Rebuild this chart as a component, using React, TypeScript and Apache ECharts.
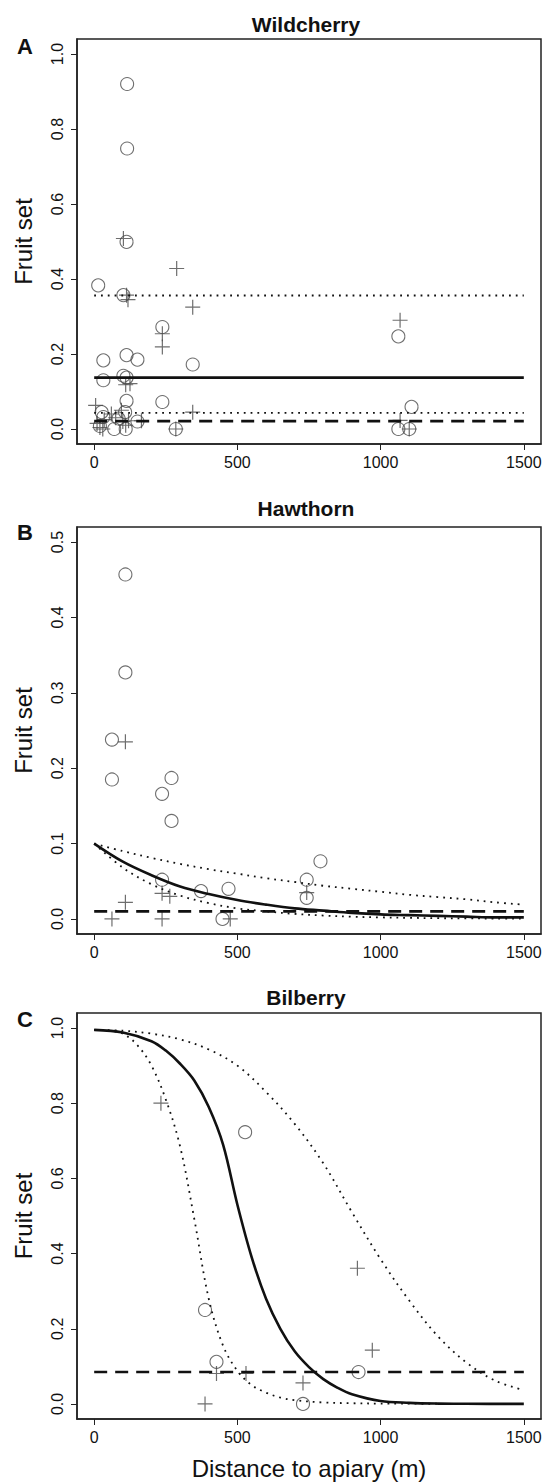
import React, { useEffect, useRef } from "react";
import * as echarts from "echarts";

// ---------- tick values ----------
const xTicks = [0, 500, 1000, 1500];
const yTicksA = [0, 0.2, 0.4, 0.6, 0.8, 1.0];
const yTicksB = [0, 0.1, 0.2, 0.3, 0.4, 0.5];
const yTicksC = [0, 0.2, 0.4, 0.6, 0.8, 1.0];

const titles = ["Wildcherry", "Hawthorn", "Bilberry"];
const letters = ["A", "B", "C"];
const xAxisTitle = "Distance to apiary (m)";
const yAxisTitle = "Fruit set";

// ---------- Panel A: Wildcherry ----------
const wildCircles: number[][] = [
  [115, 0.92], [115, 0.748], [113, 0.499], [14, 0.383], [102, 0.357],
  [238, 0.272], [344, 0.172], [32, 0.183], [113, 0.197], [151, 0.185],
  [32, 0.13], [102, 0.142], [113, 0.137], [113, 0.075], [238, 0.072],
  [26, 0.045], [32, 0.032], [108, 0.045], [70, 0.0], [110, 0.0],
  [151, 0.02], [285, 0.0], [1062, 0.247], [1108, 0.059], [1062, 0.0],
  [1100, 0.0], [85, 0.028], [20, 0.008],
];
const wildCrosses: number[][] = [
  [102, 0.508], [113, 0.357], [118, 0.345], [288, 0.428], [344, 0.325],
  [238, 0.254], [238, 0.219], [125, 0.121], [110, 0.118], [344, 0.045],
  [1068, 0.29], [1068, 0.023], [1100, 0.0], [285, 0.0],
  [5, 0.063], [10, 0.015], [20, 0.004], [30, 0.0], [35, 0.025],
  [60, 0.04], [75, 0.03], [95, 0.05], [100, 0.02], [110, 0.01],
  [120, 0.022], [165, 0.022],
];
const wildFit = 0.137;
const wildUpper = 0.356;
const wildLower = 0.043;
const wildNull = 0.021;

// ---------- Panel B: Hawthorn ----------
const hawCircles: number[][] = [
  [109, 0.457], [109, 0.327], [62, 0.238], [62, 0.185], [237, 0.166],
  [270, 0.187], [270, 0.13], [790, 0.0765], [742, 0.052], [742, 0.028],
  [237, 0.052], [373, 0.037], [469, 0.04], [448, 0.0],
];
const hawCrosses: number[][] = [
  [109, 0.235], [109, 0.022], [62, 0.0], [237, 0.0], [237, 0.034],
  [264, 0.03], [742, 0.035], [475, 0.0],
];
const hawDist = [0, 100, 200, 300, 400, 500, 600, 700, 800, 900, 1000, 1100, 1200, 1300, 1400, 1500];
const hawFit = [0.1, 0.076, 0.058, 0.043, 0.033, 0.025, 0.019, 0.014, 0.011, 0.008, 0.006, 0.005, 0.004, 0.003, 0.002, 0.002];
const hawUpper = [0.1, 0.09, 0.081, 0.073, 0.066, 0.06, 0.054, 0.049, 0.044, 0.04, 0.036, 0.032, 0.029, 0.026, 0.022, 0.019];
const hawLower = [0.1, 0.068, 0.046, 0.031, 0.021, 0.014, 0.01, 0.0067, 0.0045, 0.003, 0.002, 0.0014, 0.001, 0.0007, 0.0005, 0.0003];
const hawNull = 0.01;

// ---------- Panel C: Bilberry ----------
const bilCircles: number[][] = [
  [527, 0.723], [387, 0.25], [427, 0.112], [923, 0.085], [729, 0.0],
];
const bilCrosses: number[][] = [
  [233, 0.8], [919, 0.361], [971, 0.143], [427, 0.081], [530, 0.081],
  [729, 0.056], [387, 0.0],
];
const bilFitX = [0, 100, 200, 250, 300, 350, 400, 450, 500, 550, 600, 650, 700, 750, 800, 850, 900, 1000, 1100, 1200, 1300, 1500];
const bilFitY = [0.995, 0.988, 0.965, 0.94, 0.905, 0.86, 0.79, 0.69, 0.53, 0.39, 0.28, 0.2, 0.14, 0.098, 0.066, 0.043, 0.026, 0.008, 0.003, 0.001, 0.0005, 0.0002];
const bilLowX = [0, 50, 100, 150, 200, 250, 300, 350, 400, 450, 500, 550, 600, 650, 700, 800, 900, 1000, 1500];
const bilLowY = [0.995, 0.993, 0.985, 0.955, 0.9, 0.81, 0.685, 0.49, 0.28, 0.155, 0.088, 0.05, 0.03, 0.017, 0.01, 0.004, 0.002, 0.001, 0.0];
const bilUpX = [0, 100, 200, 300, 400, 500, 600, 700, 800, 900, 1000, 1100, 1200, 1300, 1400, 1500];
const bilUpY = [0.995, 0.993, 0.985, 0.97, 0.943, 0.9, 0.83, 0.745, 0.64, 0.51, 0.385, 0.275, 0.18, 0.11, 0.062, 0.037];
const bilNull = 0.085;

// ---------- helpers ----------
const FONT = "'Liberation Sans', Arial, Helvetica, sans-serif";
const zip = (xs: number[], ys: number[]) => xs.map((x, i) => [x, ys[i]]);
const flat = (v: number) => [[0, v], [1500, v]];

const GRID_LEFT = 77;
const GRID_WIDTH = 464;
const panelTops = [39, 527, 1013];
const panelHeights = [405, 407, 406];
const yMins = [-0.04, -0.02, -0.04];
const yMaxs = [1.04, 0.52, 1.04];
const yTickSets = [yTicksA, yTicksB, yTicksC];

const CROSS = "path://M7,0L7,14M0,7L14,7";

function scatter(idx: number, data: number[][], cross: boolean) {
  return {
    type: "scatter",
    xAxisIndex: idx,
    yAxisIndex: idx,
    data,
    symbol: cross ? CROSS : "circle",
    symbolSize: cross ? 15 : 13,
    itemStyle: {
      color: "rgba(0,0,0,0)",
      borderColor: "#4a4a4a",
      borderWidth: cross ? 1.2 : 1.1,
    },
    z: 2,
  };
}

function line(idx: number, data: number[][], kind: "solid" | "dashed" | "dotted") {
  return {
    type: "line",
    xAxisIndex: idx,
    yAxisIndex: idx,
    data,
    showSymbol: false,
    symbol: "none",
    smooth: data.length > 2 ? 0.35 : false,
    lineStyle: {
      color: "#111",
      width: kind === "dotted" ? 1.8 : 2.6,
      type: kind === "solid" ? "solid" : kind === "dashed" ? [13, 8] : [1.8, 5],
    },
    z: 3,
  };
}

function buildOption() {
  const grids = panelTops.map((top, i) => ({
    left: GRID_LEFT,
    top,
    width: GRID_WIDTH,
    height: panelHeights[i],
    show: true,
    borderColor: "#222",
    borderWidth: 1.5,
    backgroundColor: "transparent",
  }));

  const xAxes = panelTops.map((_, i) => ({
    type: "value",
    gridIndex: i,
    position: "bottom",
    min: -60,
    max: 1560,
    axisLine: { show: true, onZero: false, lineStyle: { color: "#222", width: 1.5 } },
    splitLine: { show: false },
    axisTick: {
      show: true,
      inside: false,
      customValues: xTicks,
      length: 6,
      lineStyle: { color: "#222", width: 1 },
    },
    axisLabel: {
      show: true,
      customValues: xTicks,
      margin: 10,
      fontSize: 16,
      fontFamily: FONT,
      color: "#111",
      formatter: (v: number) => String(v),
    },
    ...(i === 2
      ? {
          name: xAxisTitle,
          nameLocation: "middle",
          nameGap: 37,
          nameTextStyle: { fontSize: 24, fontFamily: FONT, color: "#111" },
        }
      : {}),
  }));

  const yAxes = panelTops.map((_, i) => ({
    type: "value",
    gridIndex: i,
    position: "left",
    min: yMins[i],
    max: yMaxs[i],
    axisLine: { show: true, onZero: false, lineStyle: { color: "#222", width: 1.5 } },
    splitLine: { show: false },
    axisTick: {
      show: true,
      inside: false,
      customValues: yTickSets[i],
      length: 6,
      lineStyle: { color: "#222", width: 1 },
    },
    axisLabel: {
      show: true,
      customValues: yTickSets[i],
      rotate: 90,
      margin: 12,
      fontSize: 16,
      fontFamily: FONT,
      color: "#111",
      formatter: (v: number) => v.toFixed(1),
    },
    name: yAxisTitle,
    nameLocation: "middle",
    nameGap: 42,
    nameRotate: 90,
    nameTextStyle: { fontSize: 24, fontFamily: FONT, color: "#111" },
  }));

  const series: any[] = [
    // A
    scatter(0, wildCircles, false),
    scatter(0, wildCrosses, true),
    line(0, flat(wildFit), "solid"),
    line(0, flat(wildUpper), "dotted"),
    line(0, flat(wildLower), "dotted"),
    line(0, flat(wildNull), "dashed"),
    // B
    scatter(1, hawCircles, false),
    scatter(1, hawCrosses, true),
    line(1, zip(hawDist, hawFit), "solid"),
    line(1, zip(hawDist, hawUpper), "dotted"),
    line(1, zip(hawDist, hawLower), "dotted"),
    line(1, flat(hawNull), "dashed"),
    // C
    scatter(2, bilCircles, false),
    scatter(2, bilCrosses, true),
    line(2, zip(bilFitX, bilFitY), "solid"),
    line(2, zip(bilLowX, bilLowY), "dotted"),
    line(2, zip(bilUpX, bilUpY), "dotted"),
    line(2, flat(bilNull), "dashed"),
  ];

  const titleY = [24, 508, 997];
  const letterY = [46, 532, 1019];
  const graphics: any[] = [];
  titles.forEach((t, i) => {
    graphics.push({
      type: "text",
      x: GRID_LEFT + GRID_WIDTH / 2 - 3,
      y: titleY[i],
      style: {
        text: t,
        font: `bold 21px ${FONT}`,
        fill: "#111",
        align: "center",
        verticalAlign: "middle",
      },
    });
    graphics.push({
      type: "text",
      x: 25,
      y: letterY[i],
      style: {
        text: letters[i],
        font: `bold 22px ${FONT}`,
        fill: "#111",
        align: "center",
        verticalAlign: "middle",
      },
    });
  });

  return {
    animation: false,
    backgroundColor: "#fff",
    grid: grids,
    xAxis: xAxes,
    yAxis: yAxes,
    series,
    graphic: graphics,
  };
}

export default function App() {
  const ref = useRef<HTMLDivElement>(null);
  useEffect(() => {
    if (!ref.current) return;
    const chart = echarts.init(ref.current, null, { renderer: "svg" });
    chart.setOption(buildOption() as any);
    return () => chart.dispose();
  }, []);
  return (
    <div
      ref={ref}
      style={{ position: "absolute", left: 0, top: 0, width: 545, height: 1482, background: "#fff" }}
    />
  );
}
